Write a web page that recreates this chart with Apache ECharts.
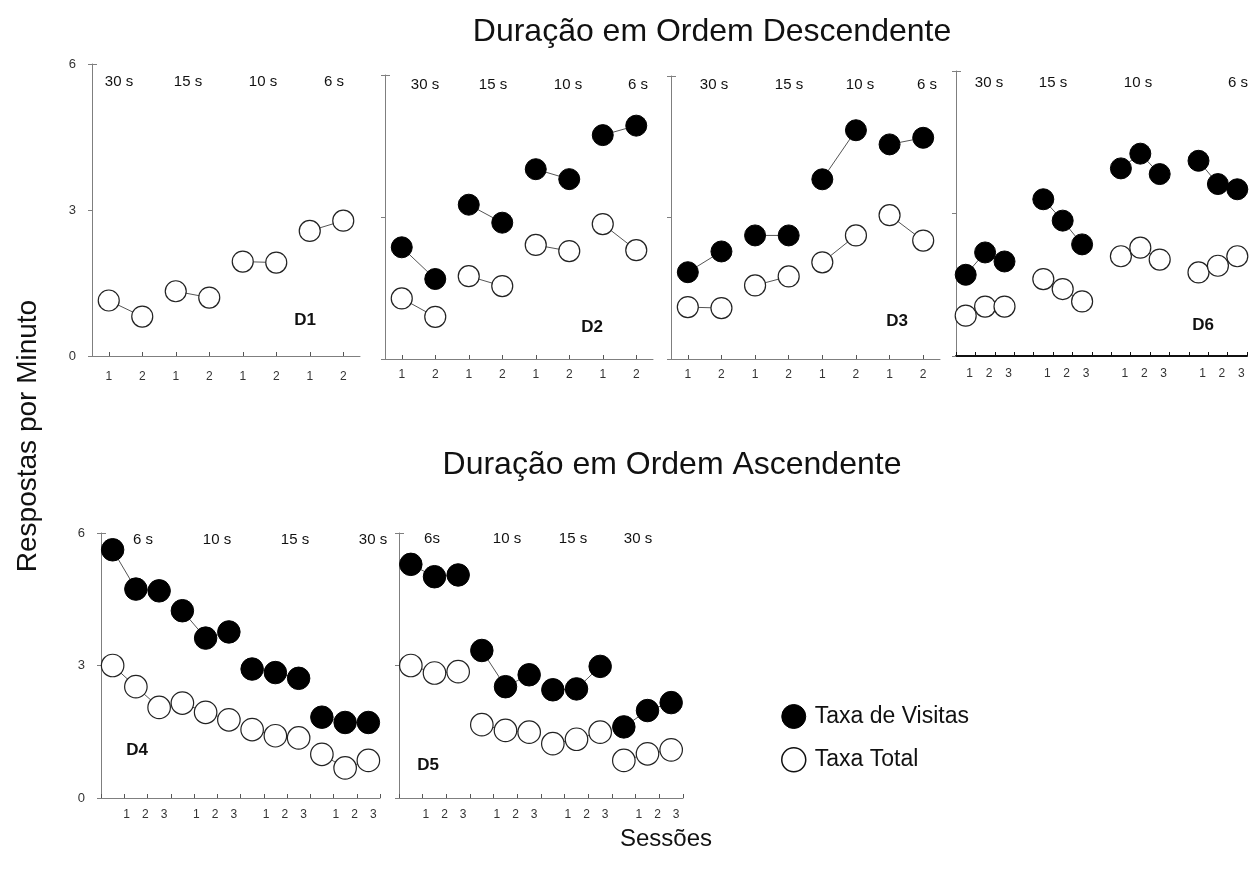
<!DOCTYPE html>
<html>
<head>
<meta charset="utf-8">
<script src="https://cdn.jsdelivr.net/npm/echarts@6/dist/echarts.min.js"></script>
<style>
  html, body { margin: 0; padding: 0; background: #fff; }
  #chart { width: 1251px; height: 880px; }
</style>
</head>
<body>
<div id="chart"></div>
<script>
// ---- Tick labels / categories ----
const durDesc = ['30 s', '15 s', '10 s', '6 s'];
const durAscD4 = ['6 s', '10 s', '15 s', '30 s'];
const durAscD5 = ['6s', '10 s', '15 s', '30 s'];
const sessions2 = ['1', '2'];
const sessions3 = ['1', '2', '3'];

// ---- Responses per minute, one inner array per duration block ----
// "Taxa Total" (open circles) and "Taxa de Visitas" (filled circles)
const d1Total   = [[1.14, 0.81], [1.33, 1.20], [1.94, 1.92], [2.57, 2.78]];

const d2Visitas = [[2.36, 1.69], [3.26, 2.88], [4.01, 3.80], [4.73, 4.93]];
const d2Total   = [[1.28, 0.89], [1.75, 1.54], [2.41, 2.28], [2.85, 2.30]];

const d3Visitas = [[1.84, 2.28], [2.62, 2.62], [3.81, 4.85], [4.55, 4.69]];
const d3Total   = [[1.10, 1.08], [1.56, 1.75], [2.05, 2.62], [3.05, 2.51]];

const d6Visitas = [[1.71, 2.18, 1.99], [3.30, 2.85, 2.35], [3.95, 4.26, 3.83], [4.11, 3.62, 3.51]];
const d6Total   = [[0.85, 1.04, 1.04], [1.62, 1.41, 1.15], [2.10, 2.28, 2.03], [1.76, 1.90, 2.10]];

const d4Visitas = [[5.62, 4.73, 4.69], [4.24, 3.62, 3.76], [2.92, 2.84, 2.71], [1.83, 1.71, 1.71]];
const d4Total   = [[3.00, 2.52, 2.05], [2.15, 1.94, 1.77], [1.55, 1.41, 1.36], [0.99, 0.68, 0.85]];

const d5Visitas = [[5.29, 5.01, 5.05], [3.34, 2.52, 2.79], [2.45, 2.47, 2.98], [1.61, 1.98, 2.16]];
const d5Total   = [[3.00, 2.83, 2.86], [1.66, 1.53, 1.49], [1.23, 1.33, 1.49], [0.85, 1.00, 1.09]];

const NAME_VIS = 'Taxa de Visitas';
const NAME_TOT = 'Taxa Total';
const FONT = '"Liberation Sans", Arial, Helvetica, sans-serif';
const AXIS_GRAY = '#7f7f7f';

// ---- Panel layout ----
const panels = [
  { tag: 'D1', rect: { left: 92, top: 64, width: 268, height: 292 }, sessions: sessions2, spacer: false,
    durations: durDesc, visitas: null, total: d1Total, yLabels: true, tickAlign: true, labelMargin: 15,
    durX: [119, 188, 263, 334], durY: 82, tagPos: [305, 320], size: 21, xAxisColor: AXIS_GRAY, xAxisWidth: 1 },
  { tag: 'D2', rect: { left: 385, top: 75, width: 268, height: 284 }, sessions: sessions2, spacer: false,
    durations: durDesc, visitas: d2Visitas, total: d2Total, yLabels: false, tickAlign: true, labelMargin: 10,
    durX: [425, 493, 568, 638], durY: 85, tagPos: [592, 327], size: 21, xAxisColor: AXIS_GRAY, xAxisWidth: 1 },
  { tag: 'D3', rect: { left: 671, top: 76, width: 269, height: 283 }, sessions: sessions2, spacer: false,
    durations: durDesc, visitas: d3Visitas, total: d3Total, yLabels: false, tickAlign: true, labelMargin: 10,
    durX: [714, 789, 860, 927], durY: 85, tagPos: [897, 321], size: 21, xAxisColor: AXIS_GRAY, xAxisWidth: 1 },
  { tag: 'D6', rect: { left: 956, top: 71, width: 291, height: 285 }, sessions: sessions3, spacer: true,
    durations: durDesc, visitas: d6Visitas, total: d6Total, yLabels: false, tickAlign: false, labelMargin: 12,
    labelShift: [8, 8, 8], durX: [989, 1053, 1138, 1238], durY: 83, tagPos: [1203, 325], size: 21,
    xAxisColor: '#111', xAxisWidth: 2 },
  { tag: 'D4', rect: { left: 101, top: 533, width: 279, height: 265 }, sessions: sessions3, spacer: false,
    durations: durAscD4, visitas: d4Visitas, total: d4Total, yLabels: true, tickAlign: false, labelMargin: 11,
    labelShift: [28, 19, 10], durX: [143, 217, 295, 373], durY: 540, tagPos: [137, 750], size: 22.5,
    xAxisColor: AXIS_GRAY, xAxisWidth: 1 },
  { tag: 'D5', rect: { left: 399, top: 533, width: 284, height: 265 }, sessions: sessions3, spacer: false,
    durations: durAscD5, visitas: d5Visitas, total: d5Total, yLabels: false, tickAlign: false, labelMargin: 11,
    labelShift: [30, 20, 10], durX: [432, 507, 573, 638], durY: 539, tagPos: [428, 765], size: 22.5,
    xAxisColor: AXIS_GRAY, xAxisWidth: 1 }
];

// Category slots for a panel: session labels per block, optional blank slot between blocks
function buildCats(nBlocks, sessions, spacer) {
  const cats = [], starts = [];
  for (let b = 0; b < nBlocks; b++) {
    if (b > 0 && spacer) cats.push('');
    starts.push(cats.length);
    sessions.forEach(s => cats.push(s));
  }
  return { cats, starts };
}

// One line series per duration block, so lines only join sessions of the same block
function blockSeries(values, starts, n, gi, name, filled, size) {
  return values.map((block, b) => {
    const data = new Array(n).fill(null);
    block.forEach((v, j) => { data[starts[b] + j] = v; });
    return {
      type: 'line', name, xAxisIndex: gi, yAxisIndex: gi, data,
      symbol: 'circle', symbolSize: size, showSymbol: true, showAllSymbol: true,
      connectNulls: false, animation: false, silent: true,
      lineStyle: { color: '#555', width: 1 },
      itemStyle: filled
        ? { color: '#000', borderColor: '#000', borderWidth: 1 }
        : { color: '#fff', borderColor: '#222', borderWidth: 1.2 },
      emphasis: { disabled: true },
      z: filled ? 4 : 3
    };
  });
}

const grids = [], xAxes = [], yAxes = [], series = [], graphics = [];

panels.forEach((p, gi) => {
  const nBlocks = p.total.length;
  const { cats, starts } = buildCats(nBlocks, p.sessions, p.spacer);
  grids.push(Object.assign({ containLabel: false, outerBoundsMode: 'none' }, p.rect));

  const labelCfg = {
    interval: 0, margin: p.labelMargin, fontSize: 12, color: '#333', fontFamily: FONT
  };
  if (p.labelShift) {
    const rich = {};
    p.labelShift.forEach((s, k) => {
      rich['s' + k] = { padding: [0, 0, 0, s], fontSize: 12, color: '#333', fontFamily: FONT };
    });
    labelCfg.rich = rich;
    labelCfg.formatter = (v) => {
      if (v === '') return '';
      const k = (Number(v) - 1) % p.labelShift.length;
      return '{s' + k + '|' + v + '}';
    };
  }

  xAxes.push({
    type: 'category', gridIndex: gi, data: cats, boundaryGap: true,
    axisLine: { show: true, onZero: false, lineStyle: { color: p.xAxisColor, width: p.xAxisWidth } },
    axisTick: { show: true, inside: true, length: 4, interval: 0, alignWithLabel: p.tickAlign,
                lineStyle: { color: p.xAxisColor === '#111' ? '#111' : '#555', width: 1 } },
    axisLabel: labelCfg,
    splitLine: { show: false }
  });

  yAxes.push({
    type: 'value', gridIndex: gi, min: 0, max: 6, interval: 3,
    axisLine: { show: true, lineStyle: { color: AXIS_GRAY, width: 1 } },
    axisTick: { show: true, length: 4, lineStyle: { color: AXIS_GRAY } },
    axisLabel: { show: p.yLabels, margin: 16, fontSize: 13, color: '#333', fontFamily: FONT },
    splitLine: { show: false }
  });

  series.push(...blockSeries(p.total, starts, cats.length, gi, NAME_TOT, false, p.size));
  if (p.visitas) series.push(...blockSeries(p.visitas, starts, cats.length, gi, NAME_VIS, true, p.size));

  // duration labels above each block
  p.durations.forEach((d, k) => {
    graphics.push({
      type: 'text', x: p.durX[k], y: p.durY, silent: true,
      style: { text: d, fontSize: 15, fill: '#111', fontFamily: FONT, textAlign: 'center', textVerticalAlign: 'middle' }
    });
  });
  // participant tag
  graphics.push({
    type: 'text', x: p.tagPos[0], y: p.tagPos[1], silent: true,
    style: { text: p.tag, fontSize: 17, fontWeight: 'bold', fill: '#111', fontFamily: FONT,
             textAlign: 'center', textVerticalAlign: 'middle' }
  });
  // small cap at the top of the vertical axis
  graphics.push({
    type: 'line', silent: true,
    shape: { x1: p.rect.left, y1: p.rect.top + 0.5, x2: p.rect.left + 5, y2: p.rect.top + 0.5 },
    style: { stroke: AXIS_GRAY, lineWidth: 1 }
  });
});

// Titles and axis names
graphics.push(
  { type: 'text', x: 712, y: 32, silent: true,
    style: { text: 'Duração em Ordem Descendente', fontSize: 32, fill: '#111', fontFamily: FONT,
             textAlign: 'center', textVerticalAlign: 'middle' } },
  { type: 'text', x: 672, y: 465, silent: true,
    style: { text: 'Duração em Ordem Ascendente', fontSize: 32, fill: '#111', fontFamily: FONT,
             textAlign: 'center', textVerticalAlign: 'middle' } },
  { type: 'text', x: 666, y: 839, silent: true,
    style: { text: 'Sessões', fontSize: 24, fill: '#111', fontFamily: FONT,
             textAlign: 'center', textVerticalAlign: 'middle' } },
  { type: 'text', x: 28, y: 436, rotation: Math.PI / 2, silent: true,
    style: { text: 'Respostas por Minuto', fontSize: 28, fill: '#111', fontFamily: FONT,
             textAlign: 'center', textVerticalAlign: 'middle' } }
);

const chart = echarts.init(document.getElementById('chart'), null, { renderer: 'canvas' });
chart.setOption({
  backgroundColor: '#fff',
  animation: false,
  grid: grids,
  xAxis: xAxes,
  yAxis: yAxes,
  series: series,
  legend: {
    orient: 'vertical', left: 776, top: 699, itemWidth: 24, itemHeight: 24, itemGap: 18,
    selectedMode: false,
    textStyle: { fontSize: 23, color: '#111', fontFamily: FONT, padding: [0, 0, 0, 4] },
    data: [
      { name: NAME_VIS, icon: 'circle', itemStyle: { color: '#000', borderColor: '#000', borderWidth: 1 } },
      { name: NAME_TOT, icon: 'circle', itemStyle: { color: '#fff', borderColor: '#111', borderWidth: 1.5 } }
    ]
  },
  graphic: graphics
});
</script>
</body>
</html>
